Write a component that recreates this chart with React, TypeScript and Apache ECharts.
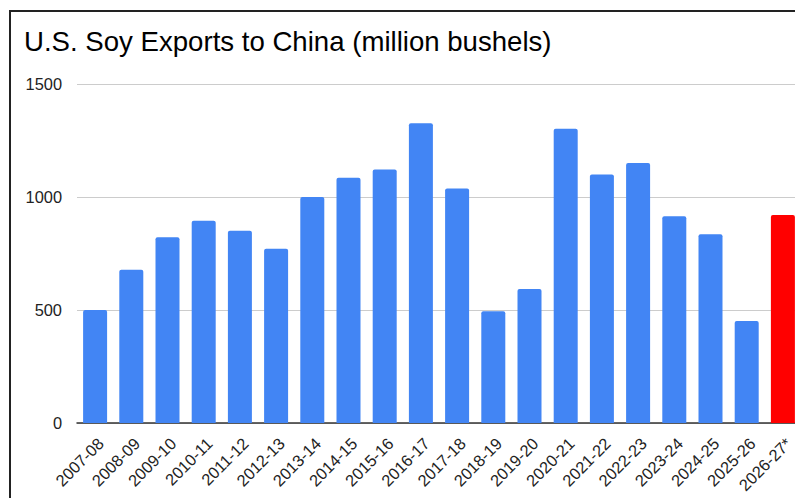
import React, { useEffect, useRef } from "react";
import * as echarts from "echarts";

const categories = [
  "2007-08", "2008-09", "2009-10", "2010-11", "2011-12", "2012-13", "2013-14",
  "2014-15", "2015-16", "2016-17", "2017-18", "2018-19", "2019-20", "2020-21",
  "2021-22", "2022-23", "2023-24", "2024-25", "2025-26", "2026-27*",
];
const exportsValues = [
  500, 678, 822, 895, 851, 771, 1000, 1085, 1122, 1326, 1038, 494, 593, 1302,
  1100, 1150, 915, 835, 451, 920,
];
const projectedCategory = "2026-27*";
const yTicks = [0, 500, 1000, 1500];

export default function App() {
  const ref = useRef<HTMLDivElement>(null);
  useEffect(() => {
    if (!ref.current) return;
    const chart = echarts.init(ref.current, undefined, { renderer: "svg" });
    chart.setOption({
      animation: false,
      backgroundColor: "#ffffff",
      textStyle: { fontFamily: "Liberation Sans, Arial, sans-serif" },
      title: {
        text: "U.S. Soy Exports to China (million bushels)",
        left: 19,
        top: 22,
        textStyle: {
          fontFamily: "Liberation Sans, Arial, sans-serif",
          fontSize: 27.6,
          fontWeight: "normal",
          color: "#000000",
        },
      },
      grid: {
        left: 77,
        width: 724,
        top: 84,
        bottom: 75,
        containLabel: false,
        outerBoundsMode: "none",
      },
      xAxis: {
        type: "category",
        data: categories,
        axisTick: { show: false },
        axisLine: { show: true, lineStyle: { color: "#333333", width: 1.5 } },
        axisLabel: {
          rotate: 45,
          interval: 0,
          margin: 12,
          align: "right",
          verticalAlign: "top",
          fontSize: 16.4,
          color: "#222222",
          fontFamily: "Liberation Sans, Arial, sans-serif",
        },
      },
      yAxis: {
        type: "value",
        min: yTicks[0],
        max: yTicks[yTicks.length - 1],
        interval: 500,
        axisLine: { show: false },
        axisTick: { show: false },
        splitLine: { lineStyle: { color: "#cccccc", width: 1 } },
        axisLabel: {
          margin: 15,
          fontSize: 16.4,
          color: "#222222",
          fontFamily: "Liberation Sans, Arial, sans-serif",
          formatter: (v: number) => String(v),
        },
      },
      series: [
        {
          type: "bar",
          barWidth: 24,
          data: exportsValues.map((v, i) => ({
            value: v,
            itemStyle: {
              color: categories[i] === projectedCategory ? "#ff0000" : "#4285f4",
              borderRadius: [2, 2, 0, 0],
            },
          })),
        },
      ],
    });
    return () => chart.dispose();
  }, []);

  return (
    <div
      style={{
        position: "fixed",
        left: 0,
        top: 0,
        width: 795,
        height: 498,
        overflow: "hidden",
        background: "#ffffff",
      }}
    >
      <div ref={ref} style={{ position: "absolute", left: 0, top: 0, width: 795, height: 498 }} />
      <div
        style={{
          position: "absolute",
          left: 9,
          top: 10,
          width: 900,
          height: 600,
          border: "2.5px solid #222222",
          pointerEvents: "none",
        }}
      />
    </div>
  );
}
